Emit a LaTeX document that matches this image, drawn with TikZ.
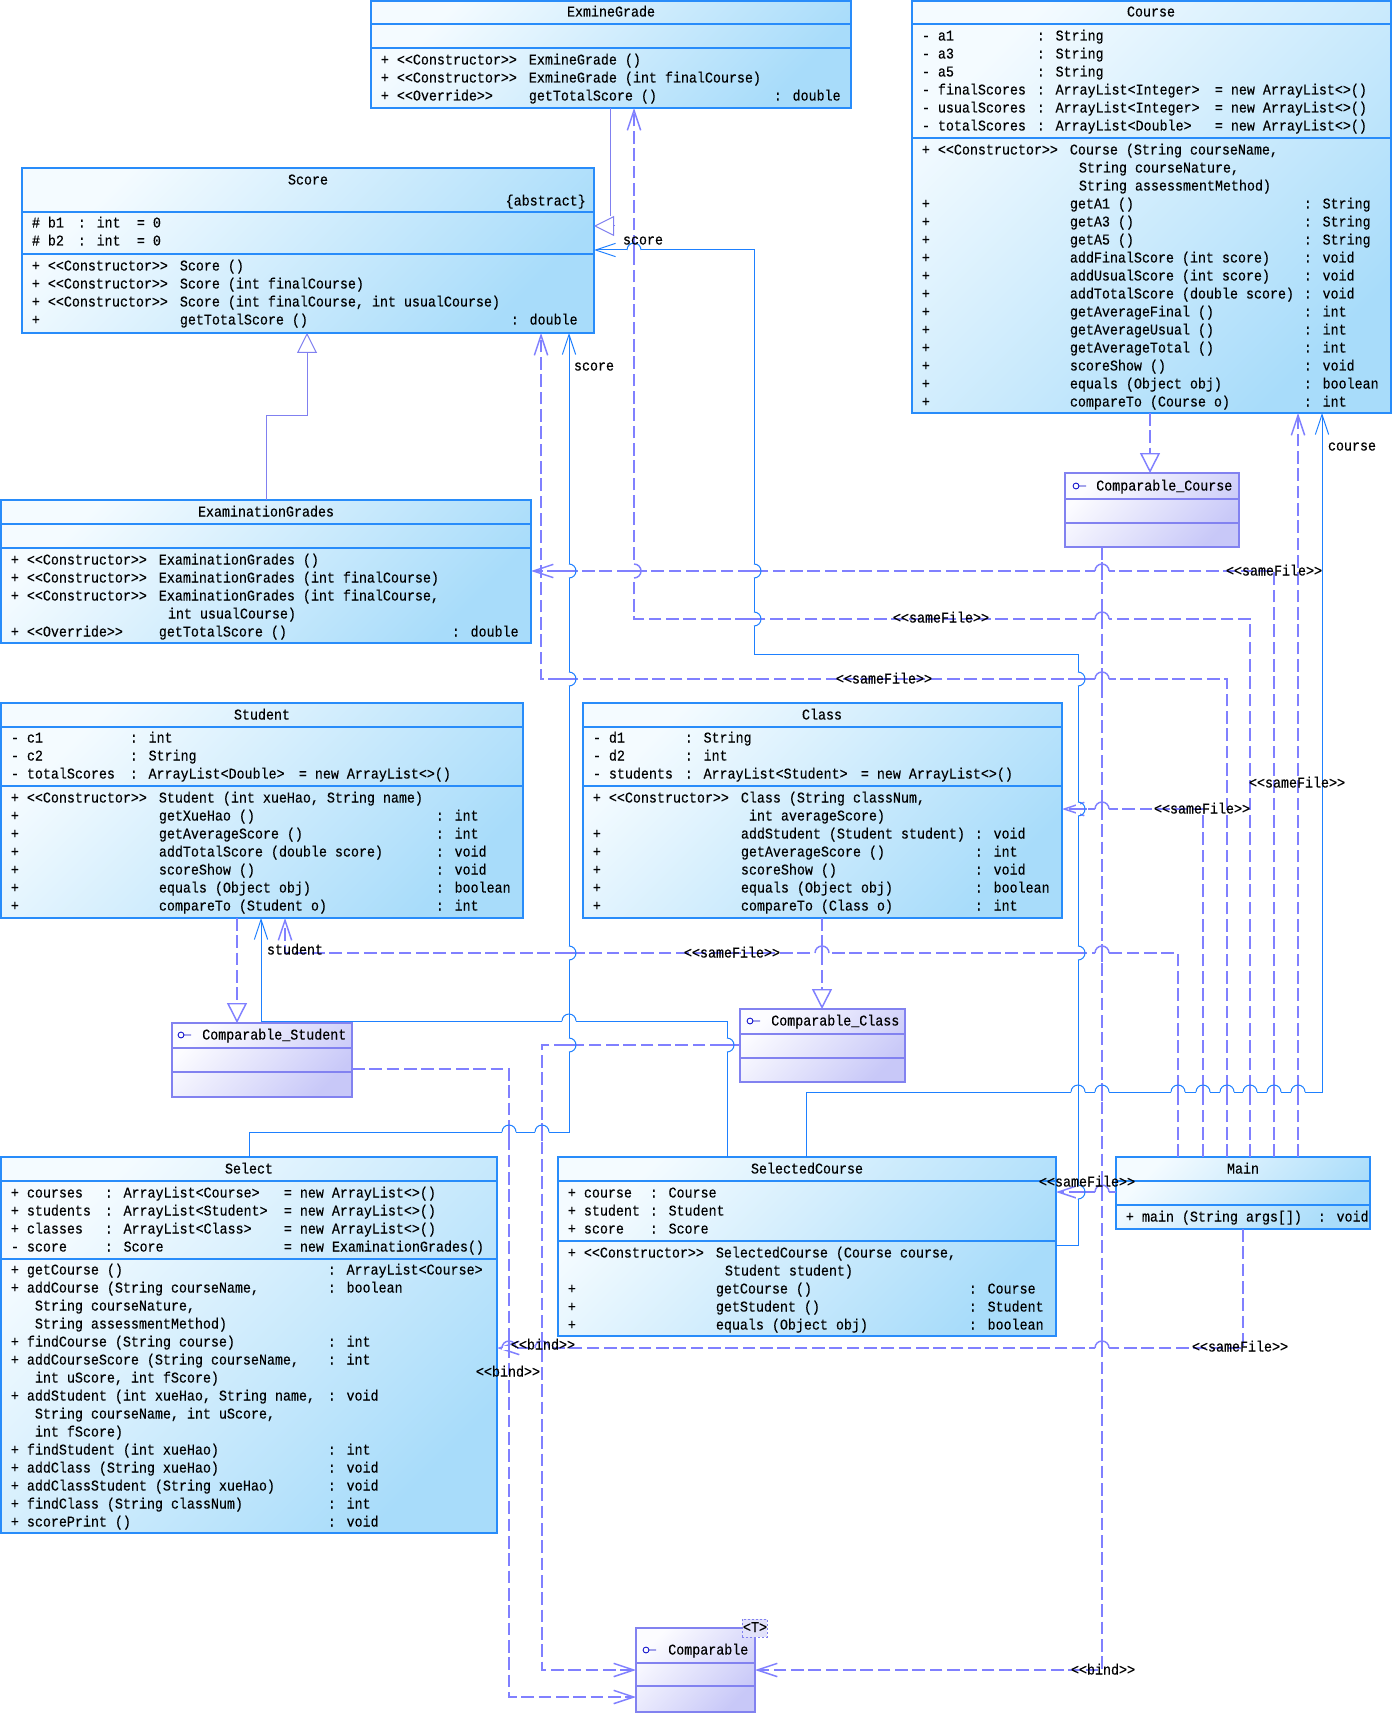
\documentclass[tikz,border=0pt]{standalone}
\usepackage{fontspec}
\newfontfamily\monof[Ligatures=TeXOff, FakeStretch=0.893, FakeBold=0.3]{Liberation Mono}
\newcommand\mono{\monof\fontsize{11.2pt}{13pt}\selectfont}
\usetikzlibrary{arrows.meta,fit}
\definecolor{bborder}{RGB}{40,140,250}
\definecolor{btop}{RGB}{244,251,255}
\definecolor{bbot}{RGB}{168,220,250}
\definecolor{iborder}{RGB}{130,130,240}
\definecolor{itop}{RGB}{252,252,255}
\definecolor{ibot}{RGB}{200,200,248}
\definecolor{dcol}{RGB}{128,128,255}
\definecolor{acol}{RGB}{30,128,255}
\definecolor{gcol}{RGB}{128,128,240}
\definecolor{icol}{RGB}{0,0,200}
\newdimen\pxu \pxu=0.75pt
\newcommand\fld[2]{\rlap{\hspace*{#1\pxu}#2}}
\newcounter{tn}
\newcommand\trow[3]{\stepcounter{tn}\node[txt] (t\arabic{tn}) at (#1,#2+4.5) {#3};}
\newcommand\ubox[6]{\coordinate (#1a) at (#2,#3); \coordinate (#1b) at (#4,#5);
  \node[#6, fit=(#1a)(#1b)] (#1) {};}
\newcommand\hsep[4]{\draw[#4] (#1,#3) -- (#2,#3);}
\newcommand\icon[2]{\draw[icol, line width=0.6pt] (#1,#2) circle[radius=2.2pt] (#1+3,#2) -- (#1+10,#2);}
% hops: horizontal line jumps over a vertical one / vertical line bulges over a horizontal one
\newcommand\hopH[4]{\fill[white] (#1-7,#2-1.6) rectangle (#1+7,#2+1.6);
  \draw[#4] (#1,#2-9) -- (#1,#2+9);
  \draw[#3] (#1-7,#2) arc[start angle=180,end angle=360,radius=7];}
\newcommand\hopV[4]{\fill[white] (#1-1.6,#2-7) rectangle (#1+1.6,#2+7);
  \draw[#4] (#1-9,#2) -- (#1+9,#2);
  \draw[#3] (#1,#2-7) arc[start angle=270,end angle=450,radius=7];}
\tikzset{
 cbox/.style={draw=bborder, line width=0.9pt, inner sep=0pt, outer sep=0pt, top color=btop, bottom color=bbot, shading angle=45},
 ibox/.style={draw=iborder, line width=0.9pt, inner sep=0pt, outer sep=0pt, top color=itop, bottom color=ibot, shading angle=45},
 bsep/.style={draw=bborder, line width=0.9pt},
 isep/.style={draw=iborder, line width=0.9pt},
 txt/.style={anchor=base west, inner sep=0pt, font=\mono},
 ttl/.style={anchor=base, inner sep=0pt, font=\mono},
 lbl/.style={anchor=base, inner sep=0pt, font=\mono},
 assoc/.style={draw=acol, line width=0.75pt, -{Straight Barb[length=15pt,width=10pt]}},
 dep/.style={draw=dcol, line width=1.1pt, dash pattern=on 9.5pt off 3.5pt, -{Straight Barb[length=15pt,width=10pt]}},
 real/.style={draw=dcol, line width=1.1pt, dash pattern=on 9.5pt off 3.5pt, -{Triangle[open,length=15pt,width=15pt]}},
 gen/.style={draw=gcol, line width=0.75pt, -{Triangle[open,length=15pt,width=15pt]}},
 sol/.style={draw=acol, line width=0.75pt},
 dsh/.style={draw=dcol, line width=1.1pt},
}
\begin{document}
\begin{tikzpicture}[x=0.75pt,y=-0.75pt]
\useasboundingbox (0,0) rectangle (1394,1715);
\fill[white] (0,0) rectangle (1394,1715);

% ---------------- boxes ----------------
\ubox{EG}{371}{1}{851}{108}{cbox}
\hsep{371}{851}{24}{bsep}\hsep{371}{851}{48}{bsep}
\ubox{CO}{912}{1}{1391}{413}{cbox}
\hsep{912}{1391}{24}{bsep}\hsep{912}{1391}{138}{bsep}
\ubox{SC}{22}{168}{594}{333}{cbox}
\hsep{22}{594}{212}{bsep}\hsep{22}{594}{254}{bsep}
\ubox{EX}{1}{500}{531}{643}{cbox}
\hsep{1}{531}{524}{bsep}\hsep{1}{531}{548}{bsep}
\ubox{ST}{1}{703}{523}{918}{cbox}
\hsep{1}{523}{727}{bsep}\hsep{1}{523}{786}{bsep}
\ubox{CL}{583}{703}{1062}{918}{cbox}
\hsep{583}{1062}{727}{bsep}\hsep{583}{1062}{786}{bsep}
\ubox{CC}{1065}{473}{1239}{547}{ibox}
\hsep{1065}{1239}{499}{isep}\hsep{1065}{1239}{523}{isep}
\ubox{CS}{172}{1023}{352}{1097}{ibox}
\hsep{172}{352}{1048}{isep}\hsep{172}{352}{1072}{isep}
\ubox{CK}{740}{1009}{905}{1082}{ibox}
\hsep{740}{905}{1034}{isep}\hsep{740}{905}{1058}{isep}
\ubox{SE}{1}{1157}{497}{1533}{cbox}
\hsep{1}{497}{1181}{bsep}\hsep{1}{497}{1259}{bsep}
\ubox{SL}{558}{1157}{1056}{1336}{cbox}
\hsep{558}{1056}{1181}{bsep}\hsep{558}{1056}{1241}{bsep}
\ubox{MA}{1116}{1157}{1370}{1229}{cbox}
\hsep{1116}{1370}{1181}{bsep}\hsep{1116}{1370}{1205}{bsep}
\ubox{CP}{636}{1628}{755}{1712}{ibox}
\hsep{636}{755}{1663}{isep}\hsep{636}{755}{1686}{isep}
\coordinate (Ta) at (742,1619); \coordinate (Tb) at (767,1637);
\node[fit=(Ta)(Tb), inner sep=0pt, draw=iborder, line width=0.6pt, dash pattern=on 1.5pt off 1.5pt, fill={rgb,255:red,226;green,226;blue,250}] (TP) {};
\node[ttl] (TPt) at (755,1632) {<T>};

% ---------------- texts ----------------
% ExmineGrade
\node[ttl] (EGt) at (611,16.5) {ExmineGrade};
\trow{371}{60}{\fld{9}{+}\fld{25}{<<Constructor>>}\fld{157}{ExmineGrade ()}}
\trow{371}{78}{\fld{9}{+}\fld{25}{<<Constructor>>}\fld{157}{ExmineGrade (int finalCourse)}}
\trow{371}{96}{\fld{9}{+}\fld{25}{<<Override>>}\fld{157}{getTotalScore ()}\fld{402}{: double}}
% Course
\node[ttl] (COt) at (1151,16.5) {Course};
\trow{912}{36}{\fld{9}{-}\fld{25}{a1}\fld{124}{: String}}
\trow{912}{54}{\fld{9}{-}\fld{25}{a3}\fld{124}{: String}}
\trow{912}{72}{\fld{9}{-}\fld{25}{a5}\fld{124}{: String}}
\trow{912}{90}{\fld{9}{-}\fld{25}{finalScores}\fld{124}{: ArrayList<Integer>}\fld{302}{= new ArrayList<>()}}
\trow{912}{108}{\fld{9}{-}\fld{25}{usualScores}\fld{124}{: ArrayList<Integer>}\fld{302}{= new ArrayList<>()}}
\trow{912}{126}{\fld{9}{-}\fld{25}{totalScores}\fld{124}{: ArrayList<Double>}\fld{302}{= new ArrayList<>()}}
\trow{912}{150}{\fld{9}{+}\fld{25}{<<Constructor>>}\fld{157}{Course (String courseName,}}
\trow{912}{168}{\fld{166}{String courseNature,}}
\trow{912}{186}{\fld{166}{String assessmentMethod)}}
\trow{912}{204}{\fld{9}{+}\fld{157}{getA1 ()}\fld{391}{: String}}
\trow{912}{222}{\fld{9}{+}\fld{157}{getA3 ()}\fld{391}{: String}}
\trow{912}{240}{\fld{9}{+}\fld{157}{getA5 ()}\fld{391}{: String}}
\trow{912}{258}{\fld{9}{+}\fld{157}{addFinalScore (int score)}\fld{391}{: void}}
\trow{912}{276}{\fld{9}{+}\fld{157}{addUsualScore (int score)}\fld{391}{: void}}
\trow{912}{294}{\fld{9}{+}\fld{157}{addTotalScore (double score)}\fld{391}{: void}}
\trow{912}{312}{\fld{9}{+}\fld{157}{getAverageFinal ()}\fld{391}{: int}}
\trow{912}{330}{\fld{9}{+}\fld{157}{getAverageUsual ()}\fld{391}{: int}}
\trow{912}{348}{\fld{9}{+}\fld{157}{getAverageTotal ()}\fld{391}{: int}}
\trow{912}{366}{\fld{9}{+}\fld{157}{scoreShow ()}\fld{391}{: void}}
\trow{912}{384}{\fld{9}{+}\fld{157}{equals (Object obj)}\fld{391}{: boolean}}
\trow{912}{402}{\fld{9}{+}\fld{157}{compareTo (Course o)}\fld{391}{: int}}
% Score
\node[ttl] (SCt) at (308,184.5) {Score};
\node[anchor=base east, inner sep=0pt, font=\mono] (SCa) at (586,205.5) {\{abstract\}};
\trow{22}{223}{\fld{9}{\#}\fld{25}{b1}\fld{55}{: int}\fld{114}{= 0}}
\trow{22}{241}{\fld{9}{\#}\fld{25}{b2}\fld{55}{: int}\fld{114}{= 0}}
\trow{22}{266}{\fld{9}{+}\fld{25}{<<Constructor>>}\fld{157}{Score ()}}
\trow{22}{284}{\fld{9}{+}\fld{25}{<<Constructor>>}\fld{157}{Score (int finalCourse)}}
\trow{22}{302}{\fld{9}{+}\fld{25}{<<Constructor>>}\fld{157}{Score (int finalCourse, int usualCourse)}}
\trow{22}{320}{\fld{9}{+}\fld{157}{getTotalScore ()}\fld{488}{: double}}
% ExaminationGrades
\node[ttl] (EXt) at (266,516.5) {ExaminationGrades};
\trow{1}{560}{\fld{9}{+}\fld{25}{<<Constructor>>}\fld{157}{ExaminationGrades ()}}
\trow{1}{578}{\fld{9}{+}\fld{25}{<<Constructor>>}\fld{157}{ExaminationGrades (int finalCourse)}}
\trow{1}{596}{\fld{9}{+}\fld{25}{<<Constructor>>}\fld{157}{ExaminationGrades (int finalCourse,}}
\trow{1}{614}{\fld{166}{int usualCourse)}}
\trow{1}{632}{\fld{9}{+}\fld{25}{<<Override>>}\fld{157}{getTotalScore ()}\fld{450}{: double}}
% Student
\node[ttl] (STt) at (262,719.5) {Student};
\trow{1}{738}{\fld{9}{-}\fld{25}{c1}\fld{128}{: int}}
\trow{1}{756}{\fld{9}{-}\fld{25}{c2}\fld{128}{: String}}
\trow{1}{774}{\fld{9}{-}\fld{25}{totalScores}\fld{128}{: ArrayList<Double>}\fld{297}{= new ArrayList<>()}}
\trow{1}{798}{\fld{9}{+}\fld{25}{<<Constructor>>}\fld{157}{Student (int xueHao, String name)}}
\trow{1}{816}{\fld{9}{+}\fld{157}{getXueHao ()}\fld{434}{: int}}
\trow{1}{834}{\fld{9}{+}\fld{157}{getAverageScore ()}\fld{434}{: int}}
\trow{1}{852}{\fld{9}{+}\fld{157}{addTotalScore (double score)}\fld{434}{: void}}
\trow{1}{870}{\fld{9}{+}\fld{157}{scoreShow ()}\fld{434}{: void}}
\trow{1}{888}{\fld{9}{+}\fld{157}{equals (Object obj)}\fld{434}{: boolean}}
\trow{1}{906}{\fld{9}{+}\fld{157}{compareTo (Student o)}\fld{434}{: int}}
% Class
\node[ttl] (CLt) at (822,719.5) {Class};
\trow{583}{738}{\fld{9}{-}\fld{25}{d1}\fld{101}{: String}}
\trow{583}{756}{\fld{9}{-}\fld{25}{d2}\fld{101}{: int}}
\trow{583}{774}{\fld{9}{-}\fld{25}{students}\fld{101}{: ArrayList<Student>}\fld{277}{= new ArrayList<>()}}
\trow{583}{798}{\fld{9}{+}\fld{25}{<<Constructor>>}\fld{157}{Class (String classNum,}}
\trow{583}{816}{\fld{165}{int averageScore)}}
\trow{583}{834}{\fld{9}{+}\fld{157}{addStudent (Student student)}\fld{391}{: void}}
\trow{583}{852}{\fld{9}{+}\fld{157}{getAverageScore ()}\fld{391}{: int}}
\trow{583}{870}{\fld{9}{+}\fld{157}{scoreShow ()}\fld{391}{: void}}
\trow{583}{888}{\fld{9}{+}\fld{157}{equals (Object obj)}\fld{391}{: boolean}}
\trow{583}{906}{\fld{9}{+}\fld{157}{compareTo (Class o)}\fld{391}{: int}}
% interfaces
\icon{1076}{486}\node[txt] (CCt) at (1096,490.5) {Comparable\_Course};
\icon{181}{1035}\node[txt] (CSt) at (202,1039.5) {Comparable\_Student};
\icon{750}{1021}\node[txt] (CKt) at (771,1025.5) {Comparable\_Class};
\icon{646}{1650}\node[txt] (CPt) at (668,1654.5) {Comparable};
% Select
\node[ttl] (SEt) at (249,1173.5) {Select};
\trow{1}{1193}{\fld{9}{+}\fld{25}{courses}\fld{103}{: ArrayList<Course>}\fld{282}{= new ArrayList<>()}}
\trow{1}{1211}{\fld{9}{+}\fld{25}{students}\fld{103}{: ArrayList<Student>}\fld{282}{= new ArrayList<>()}}
\trow{1}{1229}{\fld{9}{+}\fld{25}{classes}\fld{103}{: ArrayList<Class>}\fld{282}{= new ArrayList<>()}}
\trow{1}{1247}{\fld{9}{-}\fld{25}{score}\fld{103}{: Score}\fld{282}{= new ExaminationGrades()}}
\trow{1}{1270}{\fld{9}{+}\fld{25}{getCourse ()}\fld{326}{: ArrayList<Course>}}
\trow{1}{1288}{\fld{9}{+}\fld{25}{addCourse (String courseName,}\fld{326}{: boolean}}
\trow{1}{1306}{\fld{33}{String courseNature,}}
\trow{1}{1324}{\fld{33}{String assessmentMethod)}}
\trow{1}{1342}{\fld{9}{+}\fld{25}{findCourse (String course)}\fld{326}{: int}}
\trow{1}{1360}{\fld{9}{+}\fld{25}{addCourseScore (String courseName,}\fld{326}{: int}}
\trow{1}{1378}{\fld{33}{int uScore, int fScore)}}
\trow{1}{1396}{\fld{9}{+}\fld{25}{addStudent (int xueHao, String name,}\fld{326}{: void}}
\trow{1}{1414}{\fld{33}{String courseName, int uScore,}}
\trow{1}{1432}{\fld{33}{int fScore)}}
\trow{1}{1450}{\fld{9}{+}\fld{25}{findStudent (int xueHao)}\fld{326}{: int}}
\trow{1}{1468}{\fld{9}{+}\fld{25}{addClass (String xueHao)}\fld{326}{: void}}
\trow{1}{1486}{\fld{9}{+}\fld{25}{addClassStudent (String xueHao)}\fld{326}{: void}}
\trow{1}{1504}{\fld{9}{+}\fld{25}{findClass (String classNum)}\fld{326}{: int}}
\trow{1}{1522}{\fld{9}{+}\fld{25}{scorePrint ()}\fld{326}{: void}}
% SelectedCourse
\node[ttl] (SLt) at (807,1173.5) {SelectedCourse};
\trow{558}{1193}{\fld{9}{+}\fld{25}{course}\fld{91}{: Course}}
\trow{558}{1211}{\fld{9}{+}\fld{25}{student}\fld{91}{: Student}}
\trow{558}{1229}{\fld{9}{+}\fld{25}{score}\fld{91}{: Score}}
\trow{558}{1253}{\fld{9}{+}\fld{25}{<<Constructor>>}\fld{157}{SelectedCourse (Course course,}}
\trow{558}{1271}{\fld{166}{Student student)}}
\trow{558}{1289}{\fld{9}{+}\fld{157}{getCourse ()}\fld{410}{: Course}}
\trow{558}{1307}{\fld{9}{+}\fld{157}{getStudent ()}\fld{410}{: Student}}
\trow{558}{1325}{\fld{9}{+}\fld{157}{equals (Object obj)}\fld{410}{: boolean}}
% Main
\node[ttl] (MAt) at (1243,1173.5) {Main};
\trow{1116}{1217}{\fld{9}{+}\fld{25}{main (String args[])}\fld{201}{: void}}

% ---------------- connectors ----------------
\draw[gen] (266,0 |- EX.north) -- (266,415) -- (307,415) -- (307,0 |- SC.south);
\draw[gcol, line width=0.75pt] (610,0 |- EG.south) -- (610,216);
\draw[gen] (614,226) -- (SC.east |- 0,226);
\draw[assoc] (SL.east |- 0,1245) -- (1078,1245) -- (1078,654) -- (754,654) -- (754,250) -- (SC.east |- 0,250);
\draw[assoc] (249,0 |- SE.north) -- (249,1132) -- (569,1132) -- (569,0 |- SC.south);
\draw[assoc] (727,0 |- SL.north) -- (727,1021) -- (261,1021) -- (261,0 |- ST.south);
\draw[assoc] (806,0 |- SL.north) -- (806,1092) -- (1322,1092) -- (1322,0 |- CO.south);
\draw[real] (1150,0 |- CO.south) -- (1150,0 |- CC.north);
\draw[real] (237,0 |- ST.south) -- (237,0 |- CS.north);
\draw[real] (822,0 |- CL.south) -- (822,0 |- CK.north);
\draw[dep] (1102,0 |- CC.south) -- (1102,1670) -- (CP.east |- 0,1670);
\draw[dep] (CS.east |- 0,1069) -- (509,1069) -- (509,1697) -- (CP.west |- 0,1697);
\draw[dep] (CK.west |- 0,1045) -- (542,1045) -- (542,1670) -- (CP.west |- 0,1670);
\draw[dep] (1298,0 |- MA.north) -- (1298,0 |- CO.south);
\draw[dep] (1250,0 |- MA.north) -- (1250,619) -- (634,619) -- (634,0 |- EG.south);
\draw[dep] (1227,0 |- MA.north) -- (1227,679) -- (541,679) -- (541,0 |- SC.south);
\draw[dep] (1274,0 |- MA.north) -- (1274,571) -- (EX.east |- 0,571);
\draw[dep] (1203,0 |- MA.north) -- (1203,809) -- (CL.east |- 0,809);
\draw[dep] (1178,0 |- MA.north) -- (1178,953) -- (285,953) -- (285,0 |- ST.south);
\draw[dep] (MA.west |- 0,1192) -- (SL.east |- 0,1192);
\draw[dep] (1243,0 |- MA.south) -- (1243,1348) -- (SE.east |- 0,1348);

% ---------------- line hops ----------------
\hopH{1102}{571}{dsh}{dsh}\hopH{1102}{619}{dsh}{dsh}\hopH{1102}{679}{dsh}{dsh}
\hopH{1102}{809}{dsh}{dsh}\hopH{1102}{953}{dsh}{dsh}\hopH{822}{953}{dsh}{dsh}
\hopH{569}{1021}{sol}{sol}
\hopH{1078}{1092}{sol}{sol}\hopH{1102}{1092}{sol}{dsh}
\hopH{1178}{1092}{sol}{dsh}\hopH{1203}{1092}{sol}{dsh}\hopH{1227}{1092}{sol}{dsh}
\hopH{1250}{1092}{sol}{dsh}\hopH{1274}{1092}{sol}{dsh}\hopH{1298}{1092}{sol}{dsh}
\hopH{509}{1132}{sol}{dsh}\hopH{542}{1132}{sol}{dsh}
\hopH{1102}{1192}{dsh}{dsh}
\hopH{1102}{1348}{dsh}{dsh}\hopH{542}{1348}{dsh}{dsh}\hopH{509}{1348}{dsh}{dsh}
\hopH{634}{250}{sol}{dsh}
\hopV{569}{571}{sol}{dsh}\hopV{569}{679}{sol}{dsh}\hopV{569}{953}{sol}{dsh}\hopV{569}{1045}{sol}{dsh}
\hopV{754}{571}{sol}{dsh}\hopV{754}{619}{sol}{dsh}
\hopV{1078}{679}{sol}{dsh}\hopV{1078}{809}{sol}{dsh}\hopV{1078}{953}{sol}{dsh}\hopV{1078}{1192}{sol}{dsh}
\hopV{727}{1045}{sol}{dsh}
\hopV{634}{571}{dsh}{dsh}

% ---------------- labels ----------------
\node[lbl] (L1) at (643,244.5) {score};
\node[lbl] (L2) at (594,370.5) {score};
\node[lbl] (L3) at (295,954.5) {student};
\node[lbl] (L4) at (1352,450.5) {course};
\node[lbl] (L5) at (1103,1674.5) {<<bind>>};
\node[lbl] (L6) at (508,1376.5) {<<bind>>};
\node[lbl] (L7) at (543,1349.5) {<<bind>>};
\node[lbl] (L8) at (1297,787.5) {<<sameFile>>};
\node[lbl] (L9) at (941,622.5) {<<sameFile>>};
\node[lbl] (L10) at (884,683.5) {<<sameFile>>};
\node[lbl] (L11) at (1274,575.5) {<<sameFile>>};
\node[lbl] (L12) at (1202,813.5) {<<sameFile>>};
\node[lbl] (L13) at (732,957.5) {<<sameFile>>};
\node[lbl] (L14) at (1087,1186.5) {<<sameFile>>};
\node[lbl] (L15) at (1240,1351.5) {<<sameFile>>};
\end{tikzpicture}
\end{document}
